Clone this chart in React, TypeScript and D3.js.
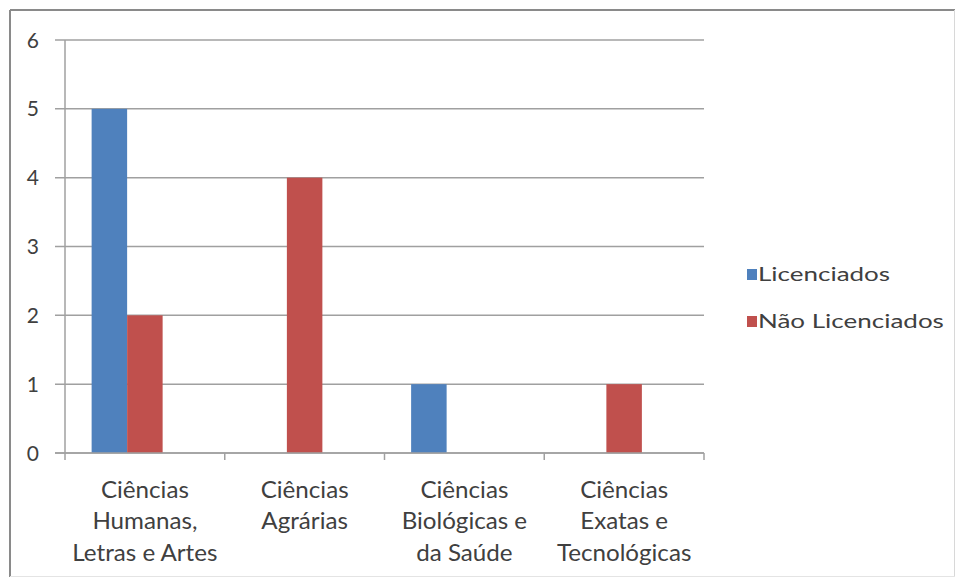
import React, { useEffect, useRef } from "react";
import { select, scaleBand, scaleLinear, range } from "d3";

const categories: string[][] = [
  ["Ciências", "Humanas,", "Letras e Artes"],
  ["Ciências", "Agrárias"],
  ["Ciências", "Biológicas e", "da Saúde"],
  ["Ciências", "Exatas e", "Tecnológicas"],
];
const seriesNames = ["Licenciados", "Não Licenciados"];
const licenciados = [5, 0, 1, 0];
const naoLicenciados = [2, 4, 0, 1];
const yTicks = [0, 1, 2, 3, 4, 5, 6];
const colors = ["#4F81BD", "#C0504D"];

const W = 956;
const H = 579;
const FONT = "Lato, 'Open Sans', sans-serif";

const App: React.FC = () => {
  const svgRef = useRef<SVGSVGElement>(null);

  useEffect(() => {
    const svg = select(svgRef.current);
    svg.selectAll("*").remove();

    const keys = categories.map((c) => c.join(" "));
    const values = [licenciados, naoLicenciados];

    const x0 = scaleBand<string>().domain(keys).range([65, 704]).padding(0);
    // excel leaves room for a third (empty) series slot in each cluster
    const x1 = scaleBand<string>()
      .domain([...seriesNames, "__empty"])
      .range([0, x0.bandwidth()])
      .paddingInner(0)
      .paddingOuter(0.75);
    const y = scaleLinear().domain([0, 6]).range([453, 40]);

    svg.append("rect").attr("width", W).attr("height", H).attr("fill", "white");

    // outer chart border
    svg.append("line").attr("x1", 10).attr("x2", 10).attr("y1", 10).attr("y2", 577)
      .attr("stroke", "#8a8a8a").attr("stroke-width", 2);
    svg.append("line").attr("x1", 10).attr("x2", 955).attr("y1", 10).attr("y2", 10)
      .attr("stroke", "#8a8a8a").attr("stroke-width", 2);
    svg.append("line").attr("x1", 954.5).attr("x2", 954.5).attr("y1", 10).attr("y2", 577)
      .attr("stroke", "#d8d8d8").attr("stroke-width", 1);
    svg.append("line").attr("x1", 10).attr("x2", 955).attr("y1", 576.5).attr("y2", 576.5)
      .attr("stroke", "#e4e4e4").attr("stroke-width", 1);

    // gridlines + y ticks
    svg.append("g")
      .selectAll("line")
      .data(yTicks)
      .join("line")
      .attr("x1", 55)
      .attr("x2", 704)
      .attr("y1", (d) => y(d))
      .attr("y2", (d) => y(d))
      .attr("stroke", "#a0a0a0")
      .attr("stroke-width", 1.5);

    svg.append("g")
      .selectAll("text")
      .data(yTicks)
      .join("text")
      .attr("x", 39)
      .attr("y", (d) => y(d))
      .attr("dy", "0.36em")
      .attr("text-anchor", "end")
      .style("font-family", FONT)
      .style("font-size", "21px")
      .style("fill", "#404040")
      .text((d) => d);

    // bars
    seriesNames.forEach((s, si) => {
      svg.append("g")
        .selectAll("rect")
        .data(values[si])
        .join("rect")
        .attr("x", (_, i) => (x0(keys[i]) as number) + (x1(s) as number))
        .attr("width", x1.bandwidth())
        .attr("y", (d) => y(d))
        .attr("height", (d) => y(0) - y(d))
        .attr("fill", colors[si]);
    });

    // y axis line
    svg.append("line").attr("x1", 65).attr("x2", 65).attr("y1", 40).attr("y2", 453)
      .attr("stroke", "#a0a0a0").attr("stroke-width", 1.5);
    // x axis line with ticks at category boundaries
    svg.append("line").attr("x1", 55).attr("x2", 704).attr("y1", 453).attr("y2", 453)
      .attr("stroke", "#a0a0a0").attr("stroke-width", 1.5);
    const bounds = range(keys.length + 1).map((i) => 65 + i * x0.step());
    svg.append("g")
      .selectAll("line")
      .data(bounds)
      .join("line")
      .attr("x1", (d) => d)
      .attr("x2", (d) => d)
      .attr("y1", 453)
      .attr("y2", 460)
      .attr("stroke", "#a0a0a0")
      .attr("stroke-width", 1.5);

    // category labels (source image is a bit stretched horizontally)
    const cat = svg.append("g")
      .selectAll("g")
      .data(categories)
      .join("g")
      .attr("transform", (_, i) =>
        `translate(${(x0(keys[i]) as number) + x0.bandwidth() / 2},0) scale(1.05,1)`)
      .append("text")
      .attr("text-anchor", "middle")
      .style("font-family", FONT)
      .style("font-size", "23px")
      .style("fill", "#404040");
    cat.each(function (lines) {
      select(this)
        .selectAll("tspan")
        .data(lines)
        .join("tspan")
        .attr("x", 0)
        .attr("y", (_, j) => 498 + j * 31.5)
        .text((d) => d);
    });

    // legend
    const legend = svg.append("g")
      .selectAll("g")
      .data(seriesNames)
      .join("g")
      .attr("transform", (_, i) => `translate(747,${269 + i * 47})`);
    legend.append("rect").attr("width", 10).attr("height", 11)
      .attr("fill", (_, i) => colors[i]);
    legend.append("text")
      .attr("transform", "translate(11,12) scale(1.3,1)")
      .style("font-family", FONT)
      .style("font-size", "20px")
      .style("fill", "#404040")
      .text((d) => d);
  }, []);

  return (
    <svg
      ref={svgRef}
      width={W}
      height={H}
      style={{ position: "absolute", left: 0, top: 0 }}
    />
  );
};

export default App;
